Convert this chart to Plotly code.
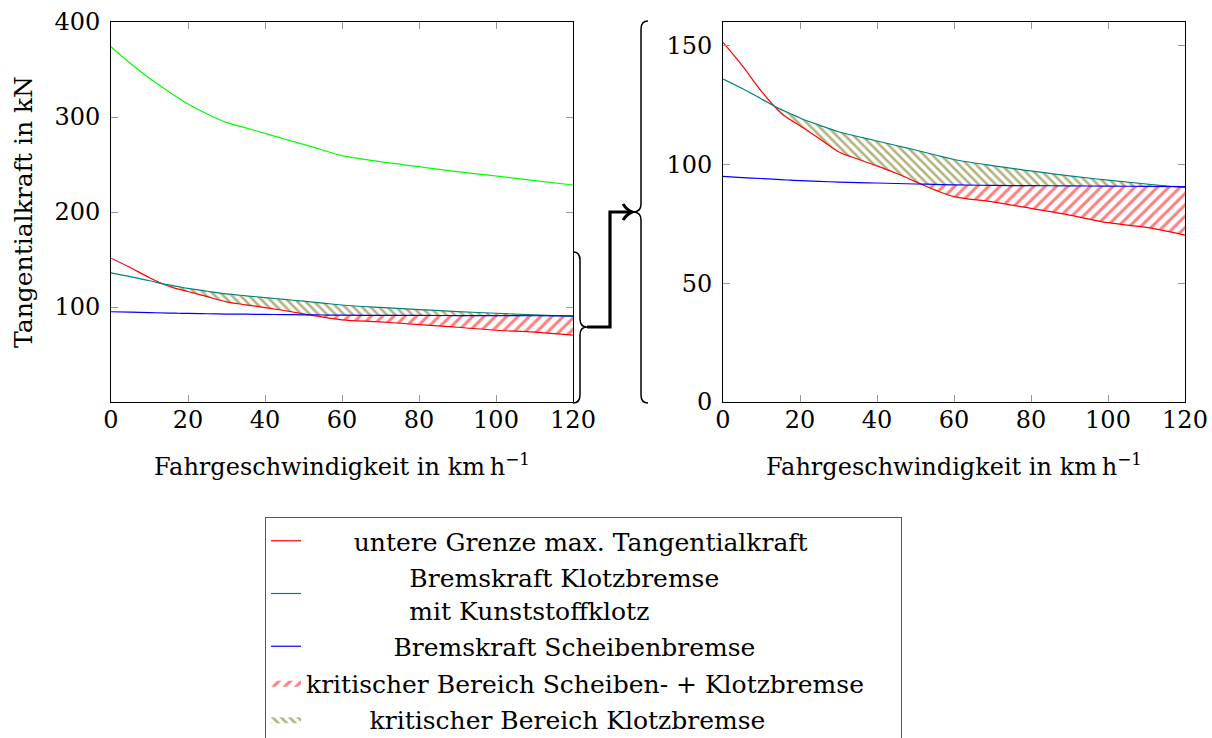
import numpy as np
import plotly.graph_objects as go

W, H = 1212, 738

# ---------------- data ----------------
speed = [0, 5, 10, 15, 17.5, 20, 25, 30, 35, 40, 45, 50, 55, 60, 70, 80, 90, 100, 110, 120]
grenze_max = [151.4, 141.6, 130.8, 121.8, 118.8, 116.3, 110.9, 105.4, 102.3, 99.4, 96.3,
              92.8, 89.3, 86.5, 84.3, 81.5, 78.7, 75.5, 73.5, 70.3]
klotzbremse = [136.0, 132.0, 127.6, 123.2, 121.4, 119.6, 116.6, 113.8, 111.8, 109.9, 108.0,
               106.1, 104.1, 102.1, 99.5, 97.3, 95.2, 93.4, 91.8, 90.2]
scheibenbremse = [95.0, 94.5, 94.1, 93.6, 93.4, 93.2, 92.9, 92.6, 92.4, 92.2, 92.0,
                  91.8, 91.6, 91.4, 91.2, 91.1, 91.0, 90.9, 90.8, 90.7]
gruen = [374.0, 356.5, 340.7, 326.7, 320.0, 313.7, 303.2, 294.4, 288.6, 282.8, 276.8,
         271.2, 265.3, 259.3, 253.0, 247.7, 242.4, 237.9, 233.0, 228.4]

x_ticks = [0, 20, 40, 60, 80, 100, 120]
y_ticks_left = [100, 200, 300, 400]
y_ticks_right = [0, 50, 100, 150]

names = {
    "red": "untere Grenze max. Tangentialkraft",
    "teal": "Bremskraft Klotzbremse<br>mit Kunststoffklotz",
    "blue": "Bremskraft Scheibenbremse",
    "hred": "kritischer Bereich Scheiben- + Klotzbremse",
    "holive": "kritischer Bereich Klotzbremse",
}
pad = {"red": 6, "teal": 13, "blue": 11, "hred": 0, "holive": 8}

# ---------------- derived fill boundaries ----------------
x = np.array(speed, float)
R = np.array(grenze_max); K = np.array(klotzbremse); S = np.array(scheibenbremse)
xs = set(x.tolist())
for a, b in [(R, K), (R, S), (K, S)]:
    d = a - b
    for i in range(len(x) - 1):
        if d[i] * d[i + 1] < 0:
            t = d[i] / (d[i] - d[i + 1])
            xs.add(x[i] + t * (x[i + 1] - x[i]))
xf = np.array(sorted(xs))
Rf = np.interp(xf, x, R); Kf = np.interp(xf, x, K); Sf = np.interp(xf, x, S)
olive_low = np.minimum(Kf, np.maximum(Rf, Sf))
olive_up = Kf
red_up = Sf
red_low = np.minimum(Rf, Sf)


def lbl(key, tail=0):
    p = "\u00a0" * pad[key]
    return p + names[key].replace("<br>", "<br>" + p) + "\u00a0" * tail


SH = dict(shape="spline", smoothing=1.0)
fig = go.Figure()

for i, (xa, ya) in enumerate([("x", "y"), ("x2", "y2")]):
    show = (i == 1)
    # red hatched region
    fig.add_trace(go.Scatter(x=xf, y=red_low, xaxis=xa, yaxis=ya, mode="lines",
                             line=dict(width=0, **SH), showlegend=False, hoverinfo="skip",
                             legendgroup="g4"))
    fig.add_trace(go.Scatter(x=xf, y=red_up, xaxis=xa, yaxis=ya, mode="lines",
                             line=dict(width=0, **SH), fill="tonexty",
                             fillcolor="rgba(255,255,255,0)",
                             fillpattern=dict(shape="/", fgcolor="#ff0000",
                                              bgcolor="rgba(255,255,255,0)",
                                              size=8, solidity=0.38),
                             name=lbl("hred", 4), showlegend=show, legendrank=4,
                             legendgroup="g4"))
    # olive hatched region
    fig.add_trace(go.Scatter(x=xf, y=olive_low, xaxis=xa, yaxis=ya, mode="lines",
                             line=dict(width=0, **SH), showlegend=False, hoverinfo="skip",
                             legendgroup="g5"))
    fig.add_trace(go.Scatter(x=xf, y=olive_up, xaxis=xa, yaxis=ya, mode="lines",
                             line=dict(width=0, **SH), fill="tonexty",
                             fillcolor="rgba(255,255,255,0)",
                             fillpattern=dict(shape="\\", fgcolor="#666600",
                                              bgcolor="rgba(255,255,255,0)",
                                              size=6, solidity=0.42),
                             name=lbl("holive"), showlegend=show, legendrank=5,
                             legendgroup="g5"))
    if i == 0:
        fig.add_trace(go.Scatter(x=speed, y=gruen, xaxis=xa, yaxis=ya, mode="lines",
                                 line=dict(color="#00ff00", width=1.2, **SH), showlegend=False,
                                 legendgroup="g0"))
    fig.add_trace(go.Scatter(x=speed, y=grenze_max, xaxis=xa, yaxis=ya, mode="lines",
                             line=dict(color="#ff0000", width=1.2, **SH),
                             name=lbl("red"), showlegend=show, legendrank=1, legendgroup="g1"))
    fig.add_trace(go.Scatter(x=speed, y=klotzbremse, xaxis=xa, yaxis=ya, mode="lines",
                             line=dict(color="#008080", width=1.2, **SH),
                             name=lbl("teal"), showlegend=show, legendrank=2, legendgroup="g2"))
    fig.add_trace(go.Scatter(x=speed, y=scheibenbremse, xaxis=xa, yaxis=ya, mode="lines",
                             line=dict(color="#0000ff", width=1.2, **SH),
                             name=lbl("blue"), showlegend=show, legendrank=3, legendgroup="g3"))

FONT = "DejaVu Serif"
FS = 24
LFS = 25
common = dict(showline=True, linecolor="black", linewidth=1, mirror="ticks",
              ticks="inside", ticklen=7, tickcolor="#999999", tickwidth=1,
              showgrid=False, zeroline=False, tickfont=dict(family=FONT, size=FS))

ydom = [1 - 402 / H, 1 - 22 / H]
xtitle = "Fahrgeschwindigkeit in km\u2009h<sup>\u22121</sup>"
fig.update_layout(
    xaxis=dict(common, domain=[111 / W, 573 / W], range=[0, 120], tickvals=x_ticks,
               anchor="y", ticklabelstandoff=-4,
               title=dict(text=xtitle, standoff=25, font=dict(family=FONT, size=FS))),
    yaxis=dict(common, domain=ydom, range=[0, 400], tickvals=y_ticks_left, anchor="x",
               ticklabelstandoff=5,
               title=dict(text="Tangentialkraft in kN", standoff=14, font=dict(family=FONT, size=25))),
    xaxis2=dict(common, domain=[723 / W, 1185 / W], range=[0, 120], tickvals=x_ticks,
                anchor="y2", ticklabelstandoff=-4,
                title=dict(text=xtitle, standoff=25, font=dict(family=FONT, size=FS))),
    yaxis2=dict(common, domain=ydom, range=[0, 160], tickvals=y_ticks_right, anchor="x2",
                ticklabelstandoff=5),
)


def P(px, py):
    return f"{px / W:.5f},{1 - py / H:.5f}"


def brace(xe, xv, xt, yt, ym, yb, r):
    return (f"M{P(xe, yt)} Q{P(xv, yt)} {P(xv, yt + r)} L{P(xv, ym - r)} "
            f"Q{P(xv, ym)} {P(xt, ym)} Q{P(xv, ym)} {P(xv, ym + r)} "
            f"L{P(xv, yb - r)} Q{P(xv, yb)} {P(xe, yb)}")


shapes = [
    dict(type="path", xref="paper", yref="paper",
         path=brace(573, 580, 587, 252, 327, 403, 8), line=dict(color="black", width=1.5)),
    dict(type="path", xref="paper", yref="paper",
         path=brace(648, 641, 633, 21, 212, 403, 8), line=dict(color="black", width=1.5)),
    dict(type="path", xref="paper", yref="paper",
         path=f"M{P(587, 327)} L{P(610, 327)} L{P(610, 212)} L{P(631, 212)}",
         line=dict(color="black", width=3.2)),
    dict(type="path", xref="paper", yref="paper",
         path=f"M{P(623, 204)} Q{P(627, 210)} {P(632, 212)} Q{P(627, 214)} {P(623, 220)}",
         line=dict(color="black", width=3)),
]

fig.update_layout(
    width=W, height=H, margin=dict(l=0, r=0, t=0, b=0, autoexpand=False),
    paper_bgcolor="white", plot_bgcolor="white",
    font=dict(family=FONT, size=FS, color="black"),
    shapes=shapes,
    showlegend=True,
    legend=dict(x=265 / W, y=1 - 517 / H, xanchor="left", yanchor="top",
                bordercolor="#555555", borderwidth=1, bgcolor="white",
                font=dict(family=FONT, size=LFS), tracegroupgap=1,
                traceorder="grouped"),
)

fig.write_html("out.html")
